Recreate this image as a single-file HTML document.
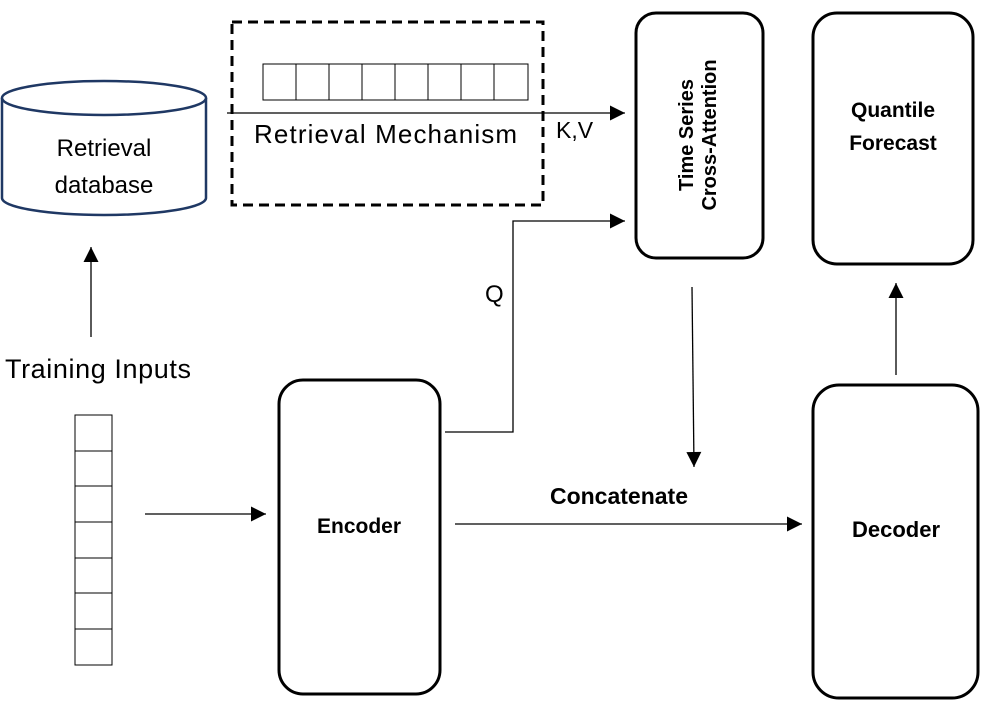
<!DOCTYPE html>
<html><head><style>body{margin:0;background:#fff}svg{display:block}text{font-family:"Liberation Sans",sans-serif}</style></head><body>
<svg width="986" height="707" viewBox="0 0 986 707" xmlns="http://www.w3.org/2000/svg">
<defs>
<marker id="b" viewBox="0 0 10 10" markerWidth="17" markerHeight="15" refX="10" refY="5" orient="auto" markerUnits="userSpaceOnUse"><path d="M0,0 L10,5 L0,10z"/></marker></defs>
<g stroke="#1f3864" stroke-width="2.5" fill="#fff">
<path d="M2,98 L2,198 A102,17 0 0 0 206,198 L206,98"/>
<ellipse cx="104" cy="98" rx="102" ry="17"/>
</g>
<text x="104" y="156" font-size="24" text-anchor="middle">Retrieval</text>
<text x="104" y="193" font-size="24" text-anchor="middle">database</text>
<rect x="232" y="22" width="311" height="183" fill="none" stroke="#000" stroke-width="3" stroke-dasharray="10,6"/>
<g fill="none" stroke="#000" stroke-width="1">
<rect x="263" y="64" width="265" height="36"/>
<path d="M296,64v36M329,64v36M362,64v36M395,64v36M428,64v36M461,64v36M494,64v36"/>
</g>
<line x1="227" y1="113" x2="625" y2="113" stroke="#000" stroke-width="1.3" marker-end="url(#b)"/>
<text x="254" y="143" font-size="26" textLength="263">Retrieval Mechanism</text>
<text x="556" y="138" font-size="23">K,V</text>
<rect x="636" y="13" width="127" height="245" rx="20" fill="none" stroke="#000" stroke-width="3"/>
<g transform="translate(700,135) rotate(-90)"><text x="0" y="-7" font-size="20" font-weight="bold" text-anchor="middle">Time Series</text><text x="0" y="16" font-size="20" font-weight="bold" text-anchor="middle">Cross-Attention</text></g>
<rect x="813" y="13" width="160" height="251" rx="24" fill="none" stroke="#000" stroke-width="3"/>
<text x="893" y="117" font-size="21" font-weight="bold" text-anchor="middle">Quantile</text>
<text x="893" y="150" font-size="21" font-weight="bold" text-anchor="middle">Forecast</text>
<polyline points="445,432 513,432 513,221 625,221" fill="none" stroke="#000" stroke-width="1.3" marker-end="url(#b)"/>
<text x="485" y="302" font-size="24">Q</text>
<line x1="692" y1="287" x2="694" y2="467" stroke="#000" stroke-width="1.3" marker-end="url(#b)"/>
<line x1="896" y1="375" x2="896" y2="283" stroke="#000" stroke-width="1.3" marker-end="url(#b)"/>
<line x1="91" y1="337" x2="91" y2="247" stroke="#000" stroke-width="1.3" marker-end="url(#b)"/>
<text x="5" y="378" font-size="27" textLength="186">Training Inputs</text>
<g fill="none" stroke="#000" stroke-width="1">
<rect x="75" y="415" width="37" height="250"/>
<path d="M75,451h37M75,486h37M75,522h37M75,558h37M75,593h37M75,629h37"/>
</g>
<line x1="145" y1="514" x2="266" y2="514" stroke="#000" stroke-width="1.3" marker-end="url(#b)"/>
<rect x="279" y="380" width="161" height="314" rx="24" fill="none" stroke="#000" stroke-width="3"/>
<text x="359" y="533" font-size="21" font-weight="bold" text-anchor="middle">Encoder</text>
<line x1="455" y1="524" x2="802" y2="524" stroke="#000" stroke-width="1.3" marker-end="url(#b)"/>
<text x="619" y="504" font-size="23" font-weight="bold" text-anchor="middle">Concatenate</text>
<rect x="813" y="385" width="165" height="313" rx="26" fill="none" stroke="#000" stroke-width="3"/>
<text x="896" y="537" font-size="22" font-weight="bold" text-anchor="middle">Decoder</text>
</svg>
</body></html>
